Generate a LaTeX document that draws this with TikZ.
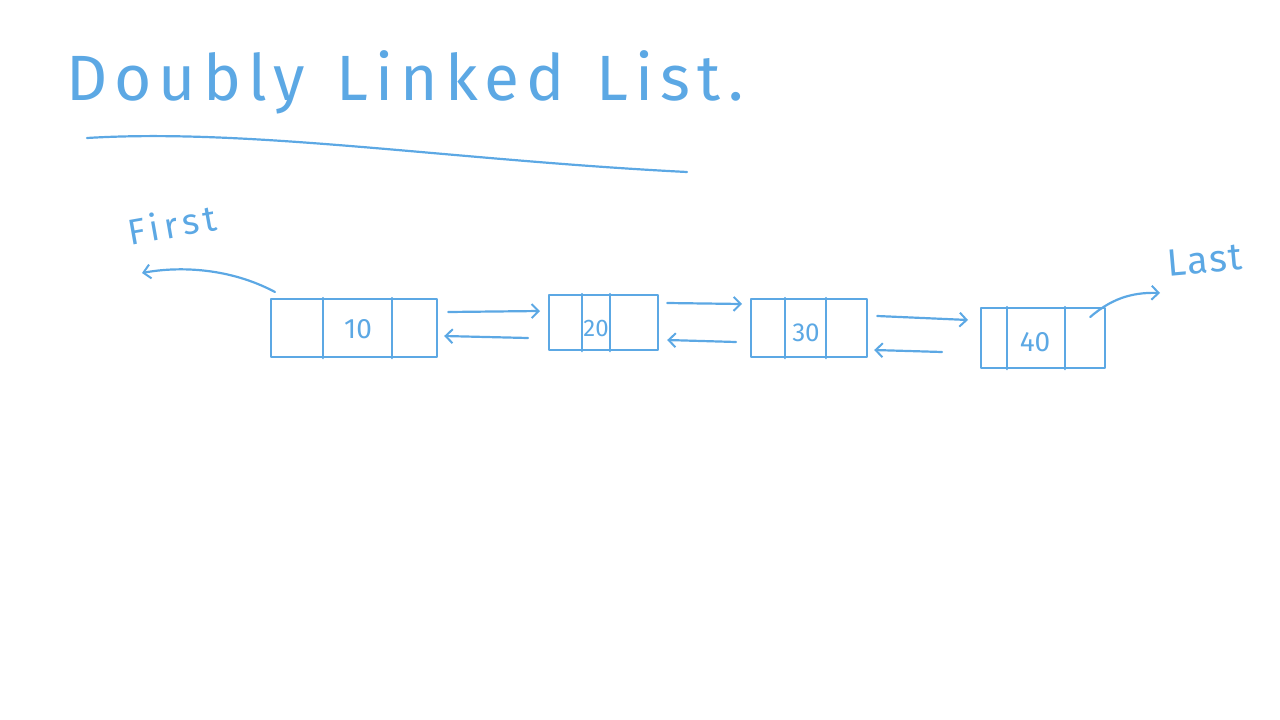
\documentclass[tikz,border=0pt]{standalone}
\usepackage{fontspec}
\setmainfont{Fira Sans}
\usetikzlibrary{arrows.meta}
\definecolor{ink}{RGB}{92,168,228}
\begin{document}
\begin{tikzpicture}[x=1pt,y=-1pt,
  pen/.style={draw=ink,line width=2.2pt,line cap=round,line join=round},
  cell/.style={pen,rectangle,inner sep=0pt,anchor=north west},
  hw/.style={text=ink,inner sep=0pt},
  ptr/.style={pen,-{Straight Barb[length=7pt,width=14pt,line width=2pt]}}]
\useasboundingbox (0,0) rectangle (1280,720);
% title
\node[hw,font=\fontsize{64}{70}\selectfont\addfontfeature{LetterSpace=11},anchor=west] (title) at (66,82) {Doubly\hspace{0.5em}Linked\hspace{0.5em}List.};
\coordinate (u1) at (87,138);
\coordinate (u2) at (687,172);
\draw[pen] (u1) .. controls (250,128) and (450,160) .. (u2);
% nodes
\node[cell,minimum width=166pt,minimum height=58pt] (n1) at (270,298) {};
\node[cell,minimum width=109pt,minimum height=55pt] (n2) at (548,294) {};
\node[cell,minimum width=116pt,minimum height=58pt] (n3) at (750,298) {};
\node[cell,minimum width=124pt,minimum height=60pt] (n4) at (980,307) {};
% dividers
\draw[pen] ([xshift=53pt]n1.north west) -- ([xshift=53pt]n1.south west);
\draw[pen] ([xshift=122pt]n1.north west) -- ([xshift=122pt]n1.south west);
\draw[pen] ([xshift=34pt]n2.north west) -- ([xshift=34pt]n2.south west);
\draw[pen] ([xshift=62pt]n2.north west) -- ([xshift=62pt]n2.south west);
\draw[pen] ([xshift=35pt]n3.north west) -- ([xshift=35pt]n3.south west);
\draw[pen] ([xshift=76pt]n3.north west) -- ([xshift=76pt]n3.south west);
\draw[pen] ([xshift=27pt]n4.north west) -- ([xshift=27pt]n4.south west);
\draw[pen] ([xshift=85pt]n4.north west) -- ([xshift=85pt]n4.south west);
% values
\node[hw,font=\fontsize{28}{30}\selectfont] (v1) at (358,329) {10};
\node[hw,font=\fontsize{24}{26}\selectfont] (v2) at (596,328) {20};
\node[hw,font=\fontsize{26}{28}\selectfont] (v3) at (806,333) {30};
\node[hw,font=\fontsize{28}{30}\selectfont] (v4) at (1035,342) {40};
% links
\draw[ptr] ([xshift=10pt,yshift=-14pt]n1.north east) -- ([xshift=-8pt,yshift=-17pt]n2.north west);
\draw[ptr] ([xshift=-20pt,yshift=-44pt]n2.north west) -- ([xshift=6pt,yshift=-38pt]n1.north east);
\draw[ptr] ([xshift=8pt,yshift=-9pt]n2.north east) -- ([xshift=-8pt,yshift=-6pt]n3.north west);
\draw[ptr] ([xshift=-14pt,yshift=-44pt]n3.north west) -- ([xshift=8pt,yshift=-46pt]n2.north east);
\draw[ptr] ([xshift=9pt,yshift=-18pt]n3.north east) -- ([xshift=-12pt,yshift=-13pt]n4.north west);
\draw[ptr] ([xshift=-38pt,yshift=-45pt]n4.north west) -- ([xshift=6pt,yshift=-52pt]n3.north east);
% first / last
\node[hw,font=\fontsize{36}{40}\selectfont\addfontfeature{LetterSpace=14},rotate=10] (first) at (172,224) {First};
\node[hw,font=\fontsize{38}{42}\selectfont\addfontfeature{LetterSpace=4},rotate=5] (last) at (1205,260) {Last};
\coordinate (fe) at (142,273);
\coordinate (le) at (1160,293);
\draw[ptr] ([xshift=5pt,yshift=6pt]n1.north west) .. controls (230,268) and (180,266) .. (fe);
\draw[ptr] ([xshift=-16pt,yshift=-10pt]n4.north east) .. controls (1110,300) and (1130,292) .. (le);
\end{tikzpicture}
\end{document}
